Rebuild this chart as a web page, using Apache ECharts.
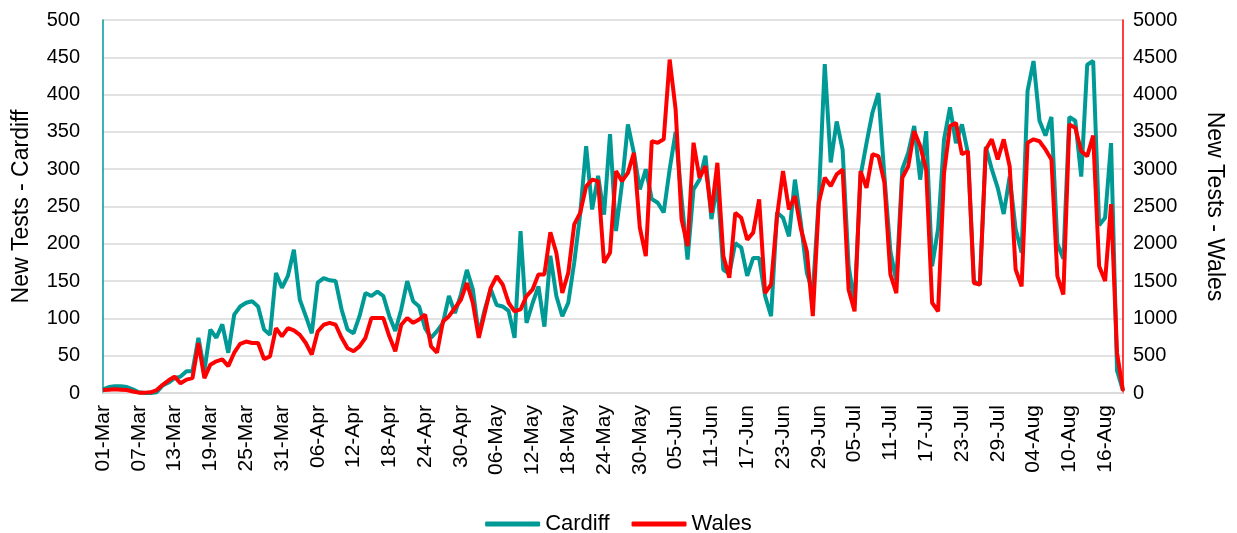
<!DOCTYPE html>
<html>
<head>
<meta charset="utf-8">
<script src="https://cdn.jsdelivr.net/npm/echarts@6/dist/echarts.min.js"></script>
<style>
html, body { margin: 0; padding: 0; background: #fff; }
#container { width: 1237px; height: 533px; }
</style>
</head>
<body>
<div id="container"></div>
<script>
// daily new tests, 01-Mar to 19-Aug
var months = [['Mar', 31], ['Apr', 30], ['May', 31], ['Jun', 30], ['Jul', 31], ['Aug', 19]];
var dates = [];
for (var m = 0; m < months.length; m++) {
    for (var d = 1; d <= months[m][1]; d++) {
        dates.push((d < 10 ? '0' + d : '' + d) + '-' + months[m][0]);
    }
}

var cardiff = [
    5, 8, 9, 9, 8, 5, 1, 0, 0, 1,
    10, 14, 20, 22, 29, 29, 74, 30, 85, 74,
    92, 54, 105, 116, 121, 123, 116, 85, 78, 161,
    141, 157, 192, 125, 103, 80, 148, 154, 151, 150,
    112, 85, 80, 103, 134, 130, 136, 130, 103, 83,
    112, 150, 123, 116, 87, 74, 83, 94, 130, 107,
    132, 165, 139, 78, 112, 139, 118, 116, 110, 74,
    217, 94, 120, 143, 89, 184, 130, 103, 121, 175,
    240, 331, 246, 291, 239, 347, 217, 280, 360, 322,
    273, 300, 260, 255, 242, 300, 350, 260, 179, 273,
    286, 318, 233, 280, 165, 160, 201, 195, 157, 181,
    181, 130, 103, 242, 235, 210, 286, 228, 161, 135,
    260, 441, 309, 364, 326, 170, 120, 291, 335, 376,
    402, 291, 190, 150, 300, 322, 358, 286, 351, 170,
    220, 340, 383, 335, 360, 322, 150, 145, 330, 300,
    275, 240, 290, 220, 188, 405, 445, 365, 345, 370,
    200, 180, 370, 365, 290, 440, 445, 225, 235, 335,
    30, 3
];

var wales = [
    40, 45, 50, 45, 40, 20, 5, 5, 10, 40,
    110, 170, 220, 130, 180, 200, 670, 200, 380, 425,
    450, 360, 540, 660, 690, 670, 670, 455, 490, 870,
    760, 870, 840, 780, 670, 515, 825, 915, 940, 915,
    740, 600, 560, 625, 740, 1005, 1005, 1005, 760, 560,
    915, 1005, 940, 985, 1050, 625, 540, 960, 1030, 1140,
    1250, 1475, 1210, 740, 1075, 1410, 1565, 1455, 1210, 1095,
    1120, 1300, 1385, 1590, 1590, 2155, 1880, 1340, 1610, 2260,
    2415, 2770, 2860, 2840, 1745, 1880, 2975, 2840, 2950, 3220,
    2215, 1835, 3375, 3355, 3400, 4470, 3800, 2325, 1970, 3355,
    2885, 3040, 2415, 3085, 1835, 1545, 2415, 2350, 2055, 2150,
    2595, 1340, 1455, 2370, 2975, 2460, 2640, 2200, 1900, 1030,
    2550, 2885, 2775, 2930, 2995, 1385, 1095, 2975, 2750, 3200,
    3175, 2820, 1590, 1340, 2885, 3040, 3510, 3310, 2995, 1210,
    1095, 2950, 3580, 3620, 3200, 3240, 1475, 1455, 3265, 3400,
    3130, 3400, 3040, 1655, 1430, 3355, 3400, 3375, 3265, 3130,
    1565, 1320, 3600, 3555, 3240, 3175, 3450, 1700, 1500, 2530,
    537, 30
];

var teal = '#009a96';
var red = '#ff0000';
var font = 'Liberation Sans';

var dom = document.getElementById('container');
var myChart = echarts.init(dom);

var option = {
    animation: false,
    textStyle: { fontFamily: font },
    grid: { left: 103, right: 114, top: 20, bottom: 140 },
    legend: {
        top: 508,
        left: 'center',
        icon: 'roundRect',
        itemWidth: 55,
        itemHeight: 5,
        itemGap: 22,
        textStyle: { fontSize: 22, color: '#000', fontFamily: font },
        data: ['Cardiff', 'Wales']
    },
    xAxis: {
        type: 'category',
        data: dates,
        boundaryGap: false,
        axisLine: { lineStyle: { color: '#d9d9d9', width: 1.5 } },
        axisTick: { show: false },
        axisLabel: {
            interval: 5,
            rotate: 90,
            fontSize: 21,
            color: '#000',
            margin: 12
        }
    },
    yAxis: [
        {
            type: 'value',
            min: 0,
            max: 500,
            interval: 50,
            name: 'New Tests - Cardiff',
            nameLocation: 'middle',
            nameGap: 70,
            nameTextStyle: { fontSize: 23, color: '#000' },
            axisLine: { show: true, lineStyle: { color: teal, width: 1.5 } },
            axisTick: { show: false },
            axisLabel: { fontSize: 20, color: '#000', margin: 23 },
            splitLine: { lineStyle: { color: '#d9d9d9', width: 1.5 } }
        },
        {
            type: 'value',
            min: 0,
            max: 5000,
            interval: 500,
            name: 'New Tests - Wales',
            nameLocation: 'middle',
            nameRotate: -90,
            nameGap: 80,
            nameTextStyle: { fontSize: 23, color: '#000' },
            axisLine: { show: true, lineStyle: { color: red, width: 1.5 } },
            axisTick: { show: false },
            axisLabel: {
                fontSize: 20,
                color: '#000',
                margin: 10,
                formatter: function (v) { return String(v); }
            },
            splitLine: { show: false }
        }
    ],
    series: [
        {
            name: 'Cardiff',
            type: 'line',
            yAxisIndex: 0,
            data: cardiff,
            symbol: 'none',
            itemStyle: { color: teal },
            lineStyle: { color: teal, width: 4 }
        },
        {
            name: 'Wales',
            type: 'line',
            yAxisIndex: 1,
            data: wales,
            symbol: 'none',
            itemStyle: { color: red },
            lineStyle: { color: red, width: 4 }
        }
    ]
};

if (option && typeof option === 'object') {
    myChart.setOption(option, true);
}
</script>
</body>
</html>
